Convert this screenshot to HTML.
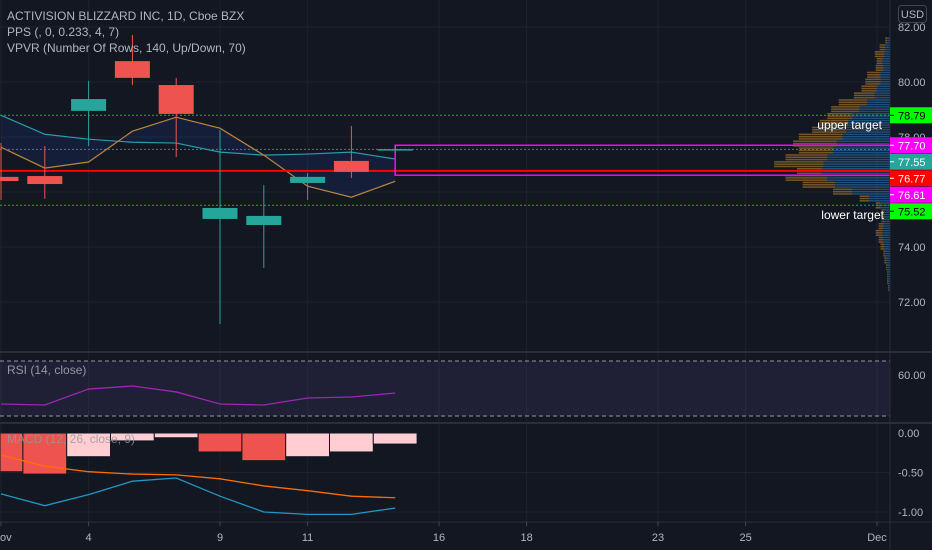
<!DOCTYPE html>
<html><head><meta charset="utf-8"><style>
html,body{margin:0;padding:0;background:#131722;overflow:hidden}
svg{display:block;font-family:"Liberation Sans",sans-serif}
</style></head><body>
<svg id="c" width="932" height="550" xmlns="http://www.w3.org/2000/svg">
<rect x="0" y="0" width="932" height="550" fill="#131722"/>
</svg>
<script>
const days=['Nov','2','4','5','6','9','10','11','12','13'];
const opens=[76.55,76.58,78.95,80.76,79.89,75.02,74.80,76.33,77.13,77.53];
const highs=[77.78,77.67,80.04,81.71,80.15,78.25,76.25,76.69,78.40,77.70];
const lows=[75.71,75.75,77.67,79.89,77.27,71.20,73.24,75.71,76.51,77.40];
const closes=[76.40,76.29,79.38,80.15,78.84,75.42,75.13,76.55,76.73,77.56];
const maFast=[78.79,78.10,77.92,77.81,77.78,77.45,77.34,77.38,77.45,77.20];
const maSlow=[77.63,76.87,77.09,78.21,78.72,78.32,77.34,76.21,75.81,76.39];
const rsiVals=[38.7,38.0,49.6,51.8,47.5,38.7,38.0,43.1,43.8,46.7];
const macdVals=[-0.77,-0.92,-0.78,-0.61,-0.57,-0.80,-1.00,-1.03,-1.03,-0.95];
const signalVals=[-0.28,-0.42,-0.49,-0.52,-0.53,-0.58,-0.67,-0.73,-0.80,-0.82];
const histVals=[-0.49,-0.52,-0.30,-0.10,-0.06,-0.24,-0.35,-0.30,-0.24,-0.14];
const histColors=['#ef5350','#ef5350','#ffcdd2','#ffcdd2','#ffcdd2','#ef5350','#ef5350','#ffcdd2','#ffcdd2','#ffcdd2'];
const xTickLabels=['ov','4','9','11','16','18','23','25','Dec'];
const xTickIdx=[0,2,5,7,10,12,15,17,20];
const priceTicks=[82,80,78,74,72];
const levelPrices=[78.79,77.70,77.55,76.77,76.61,75.52];
const levelColors=['#00ff00','#ff00ff','#26a69a','#ff0000','#ff00ff','#00ff00'];
const levelText=['#000','#fff','#fff','#fff','#fff','#000'];
const vpPrices=[81.5,81.25,81,80.75,80.5,80.25,80,79.75,79.5,79.25,79,78.75,78.5,78.25,78,77.75,77.5,77.25,77,76.75,76.5,76.25,76,75.75,75.5,75.25,75,74.75,74.5,74.25,74,73.75,73.5,73.25,73,72.75,72.5];
const vpUp=[3,5,6,8,7,10,10,14,16,24,32,40,44,46,50,56,60,66,70,72,66,58,40,22,10,6,6,7,8,7,6,5,4,3,2,2,1];
const vpDown=[2,6,10,6,8,14,16,16,22,30,30,26,30,36,46,46,36,44,52,26,44,34,20,10,5,3,3,5,7,5,4,2,2,1,1,1,1];

const svg=document.getElementById('c');
const NS='http://www.w3.org/2000/svg';
function mk(tag,attrs,parent){const e=document.createElementNS(NS,tag);for(const k in attrs)e.setAttribute(k,attrs[k]);(parent||svg).appendChild(e);return e;}
const xOf=i=>1+i*43.8;
const yP=p=>27+(82-p)*27.5;
const yR=v=>361+(70-v)*1.375;
const yM=v=>433-v*79;
const RX=890;

// grid
for(const i of xTickIdx){const l=mk('line',{x1:xOf(i),x2:xOf(i),y1:0,y2:522,stroke:'#1e222d','stroke-width':1});

}
for(const p of priceTicks.concat([76])){const l=mk('line',{x1:0,x2:RX,y1:yP(p),y2:yP(p),stroke:'#1e222d'});

}

// volume profile
const vg=mk('g',{});


vpPrices.forEach((p,i)=>{const u=vpUp[i]*0.95,d=vpDown[i]*0.95;
for(let k=0;k<3;k++){const y=yP(p)-3.4+k*2.3;
const r1=mk('rect',{x:RX-u,y:y,width:u,height:1.5,fill:'#2a7bc0',opacity:0.55},vg);


const r2=mk('rect',{x:RX-u-d,y:y,width:d,height:1.5,fill:'#c88a2e',opacity:0.55},vg);

}});

// MA fill & lines
let pts1=maFast.map((v,i)=>xOf(i)+','+yP(v)),pts2=maSlow.map((v,i)=>xOf(i)+','+yP(v));
const fill=mk('polygon',{points:pts1.concat(pts2.slice().reverse()).join(' '),fill:'#2962ff',opacity:0.1});


const l1=mk('polyline',{points:pts1.join(' '),fill:'none',stroke:'#2a9bb0','stroke-width':1.2});


const l2=mk('polyline',{points:pts2.join(' '),fill:'none',stroke:'#b9873a','stroke-width':1.2});



// level lines
const gd1=mk('line',{x1:0,x2:RX,y1:yP(78.79),y2:yP(78.79),stroke:'#00c800','stroke-dasharray':'2,2'});


const gd2=mk('line',{x1:0,x2:RX,y1:yP(75.52),y2:yP(75.52),stroke:'#00c800','stroke-dasharray':'2,2'});


const gl=mk('line',{x1:0,x2:RX,y1:yP(77.55),y2:yP(77.55),stroke:'#5d7580','stroke-dasharray':'2,2'});


const rl=mk('line',{x1:0,x2:RX,y1:yP(76.77),y2:yP(76.77),stroke:'#ff0000','stroke-width':2});


const bx=mk('rect',{x:xOf(9),y:yP(77.70),width:RX-xOf(9),height:yP(76.61)-yP(77.70),fill:'none',stroke:'#ff00ff','stroke-width':1.5});



// candles
days.forEach((d,i)=>{const x=xOf(i),up=closes[i]>=opens[i],c=up?'#26a69a':'#ef5350';
const g=mk('g',{});


mk('line',{x1:x,x2:x,y1:yP(highs[i]),y2:yP(lows[i]),stroke:c,'stroke-width':1},g);
const t=yP(Math.max(opens[i],closes[i])),b=yP(Math.min(opens[i],closes[i]));
mk('rect',{x:x-17.5,y:t,width:35,height:Math.max(1.5,b-t),fill:c},g);});

// labels
const tt=[['ACTIVISION BLIZZARD INC, 1D, Cboe BZX',15],['PPS (, 0, 0.233, 4, 7)',31],['VPVR (Number Of Rows, 140, Up/Down, 70)',47]];
tt.forEach((a,i)=>{const t=mk('text',{x:7,y:a[1]+5,fill:'#b2b5be','font-size':12});t.textContent=a[0];

});
const ut=mk('text',{x:882,y:129,fill:'#fff','font-size':12,'text-anchor':'end'});ut.textContent='upper target';


const lt=mk('text',{x:884,y:219,fill:'#fff','font-size':12,'text-anchor':'end'});lt.textContent='lower target';



// RSI pane
const sep1=mk('line',{x1:0,x2:932,y1:352,y2:352,stroke:'#2a2e39','stroke-width':2});


const rb=mk('rect',{x:0,y:yR(70),width:RX,height:yR(30)-yR(70),fill:'#7e57c2',opacity:0.12});


[70,30].forEach(v=>{const l=mk('line',{x1:0,x2:RX,y1:yR(v),y2:yR(v),stroke:'#9598a1','stroke-dasharray':'4,3'});

});
const rs=mk('polyline',{points:rsiVals.map((v,i)=>xOf(i)+','+yR(v)).join(' '),fill:'none',stroke:'#9c27b0','stroke-width':1.3});


const rt=mk('text',{x:7,y:374,fill:'#9598a1','font-size':12});rt.textContent='RSI (14, close)';



// MACD pane
const sep2=mk('line',{x1:0,x2:932,y1:423,y2:423,stroke:'#2a2e39','stroke-width':2});


[-0.5,-1].forEach(v=>{const l=mk('line',{x1:0,x2:RX,y1:yM(v),y2:yM(v),stroke:'#1e222d'});

});
histVals.forEach((v,i)=>{const x=xOf(i)-21.9;const r=mk('rect',{x:Math.max(0,x),y:yM(0),width:43.8-(x<0?-x:0),height:yM(v)-yM(0),fill:histColors[i],stroke:'#131722','stroke-width':1});

});
const ml=mk('polyline',{points:macdVals.map((v,i)=>xOf(i)+','+yM(v)).join(' '),fill:'none',stroke:'#2196c3','stroke-width':1.3});


const sl=mk('polyline',{points:signalVals.map((v,i)=>xOf(i)+','+yM(v)).join(' '),fill:'none',stroke:'#ff6d00','stroke-width':1.3});


const mt=mk('text',{x:7,y:443,fill:'#9598a1','font-size':12,opacity:0.8});mt.textContent='MACD (12, 26, close, 9)';



// right axis
const ax=mk('line',{x1:RX,x2:RX,y1:0,y2:550,stroke:'#2a2e39'});


const ub=mk('rect',{x:898.5,y:5.5,width:28,height:17,rx:3,fill:'none',stroke:'#434651'});


const us=mk('text',{x:912.5,y:18,fill:'#b2b5be','font-size':11,'text-anchor':'middle'});us.textContent='USD';


priceTicks.forEach(p=>{const t=mk('text',{x:898,y:yP(p)+4,fill:'#b2b5be','font-size':11});t.textContent=p.toFixed(2);

});
let prevY=-100;
levelPrices.forEach((p,i)=>{const y=Math.max(yP(p),prevY+16.5);prevY=y;
const r=mk('rect',{x:RX,y:y-8,width:42,height:16,fill:levelColors[i]});


const tk=mk('line',{x1:RX,x2:RX+4,y1:y,y2:y,stroke:levelText[i]});


const t=mk('text',{x:898,y:y+4,fill:levelText[i],'font-size':11});t.textContent=p.toFixed(2);

});
const r60=mk('text',{x:898,y:yR(60)+4,fill:'#b2b5be','font-size':11});r60.textContent='60.00';


[[0,'0.00'],[-0.5,'-0.50'],[-1,'-1.00']].forEach(a=>{const t=mk('text',{x:898,y:yM(a[0])+4,fill:'#b2b5be','font-size':11});t.textContent=a[1];

});

// x axis
const xa=mk('line',{x1:0,x2:932,y1:522,y2:522,stroke:'#2a2e39'});


xTickIdx.forEach((d,i)=>{const x=xOf(d);
const tk=mk('line',{x1:x,x2:x,y1:522,y2:526,stroke:'#434651'});


const t=mk('text',{x:i===0?0:x,y:541,fill:'#b2b5be','font-size':11,'text-anchor':i===0?'start':'middle'});t.textContent=xTickLabels[i];

});
</script>
</body></html>
